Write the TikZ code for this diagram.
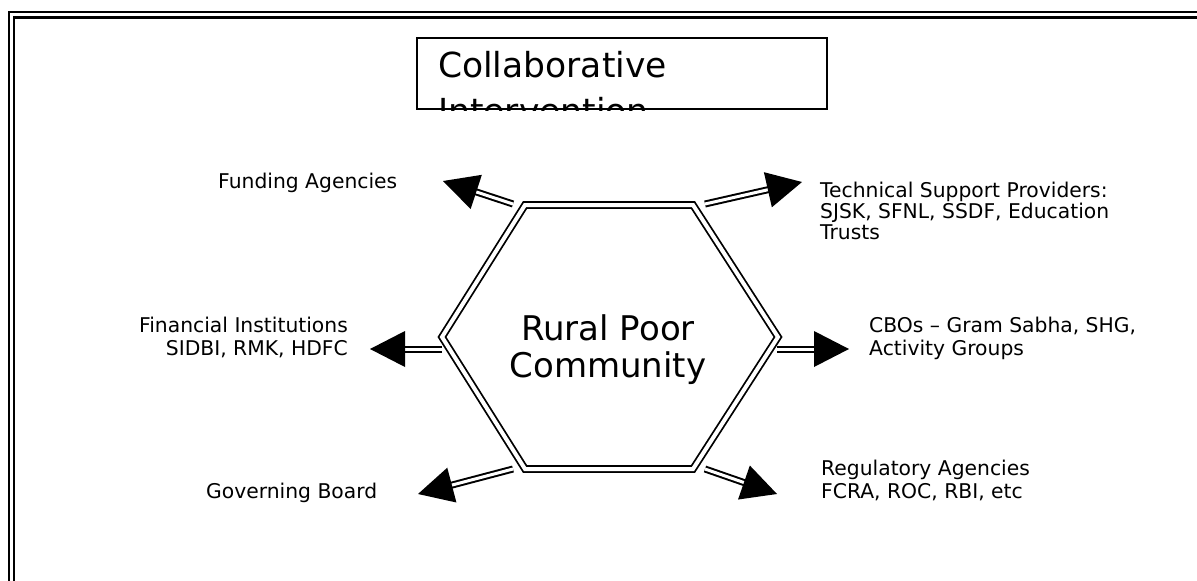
\documentclass[tikz,border=0pt]{standalone}
\usepackage{fontspec}
\setmainfont{DejaVu Sans}
\usetikzlibrary{calc}

% double-shafted arrow with a large solid head, from #1 to #2
\newcommand\fatarrow[2]{%
  \coordinate (ab) at ($(#2)!35pt!(#1)$);
  \draw[shaft] (#1) -- ($(#2)!30pt!(#1)$);
  \fill (#2) -- ($(ab)!18pt!90:(#2)$) -- ($(ab)!18pt!-90:(#2)$) -- cycle;}

\begin{document}
\begin{tikzpicture}[x=1pt,y=-1pt,
  lbl/.style={inner sep=0pt, font=\fontsize{20.3}{23.5}\selectfont},
  lbltight/.style={inner sep=0pt, font=\fontsize{20.3}{19.8}\selectfont},
  big/.style={inner sep=0pt, font=\fontsize{34}{37}\selectfont},
  shaft/.style={draw=black, double=white, line width=2pt, double distance=3pt},
  hexline/.style={draw=black, double=white, line width=1.8pt, double distance=4pt},
  frameline/.style={draw=black, double=white, line width=2.2pt, double distance=3pt},
  titlebox/.style={draw=black, line width=2.2pt, inner sep=0pt,
                   minimum width=410pt, minimum height=71pt}]
\useasboundingbox (0,0) rectangle (1197,581);
\clip (0,0) rectangle (1197,581);

% outer frame (runs off the right and bottom edges)
\draw[frameline] (11.7,14.8) rectangle (1240,640);

% title box, second line cut off by the box edge
\node[titlebox] (title) at (622,73.5) {};
\begin{scope}
  \clip (title.south west) rectangle (title.north east);
  \node[big, anchor=base west, font=\fontsize{34.5}{46}\selectfont] (titletext) at (438,77)
    {\begin{tabular}[t]{@{}l@{}}Collaborative\\Intervention\end{tabular}};
\end{scope}

% central hexagon
\coordinate (h1) at (525,205);
\coordinate (h2) at (693,205);
\coordinate (h3) at (778,337);
\coordinate (h4) at (693,469);
\coordinate (h5) at (525,469);
\coordinate (h6) at (442,337);
\draw[hexline] (h1) -- (h2) -- (h3) -- (h4) -- (h5) -- (h6) -- cycle;
\node[big, anchor=base] (hex) at (608,340)
  {\begin{tabular}[t]{@{}c@{}}Rural Poor\\Community\end{tabular}};

% surrounding labels
\node[lbl, anchor=base west] (fund) at (218,188) {Funding Agencies};
\node[lbltight, anchor=base west] (tech) at (820,197)
  {\begin{tabular}[t]{@{}l@{}}Technical Support Providers:\\SJSK, SFNL, SSDF, Education\\Trusts\end{tabular}};
\node[lbl, anchor=base east] (fin) at (348,332)
  {\begin{tabular}[t]{@{}r@{}}Financial Institutions\\SIDBI, RMK, HDFC\end{tabular}};
\node[lbl, anchor=base west] (cbo) at (869,332)
  {\begin{tabular}[t]{@{}l@{}}CBOs – Gram Sabha, SHG,\\Activity Groups\end{tabular}};
\node[lbl, anchor=base west] (gov) at (206,498) {Governing Board};
\node[lbl, anchor=base west] (reg) at (821,475)
  {\begin{tabular}[t]{@{}l@{}}Regulatory Agencies\\FCRA, ROC, RBI, etc\end{tabular}};

% arrow ends
\coordinate (fundS) at (513,204);  \coordinate (fundT) at (443,181);
\coordinate (techS) at (705,204);  \coordinate (techT) at (802,182);
\coordinate (finS)  at (442,349);  \coordinate (finT)  at (370,349);
\coordinate (cboS)  at (777,349);  \coordinate (cboT)  at (849,349);
\coordinate (govS)  at (513,469);  \coordinate (govT)  at (418,494);
\coordinate (regS)  at (705,469);  \coordinate (regT)  at (777,494);

\fatarrow{fundS}{fundT}
\fatarrow{techS}{techT}
\fatarrow{finS}{finT}
\fatarrow{cboS}{cboT}
\fatarrow{govS}{govT}
\fatarrow{regS}{regT}
\end{tikzpicture}
\end{document}
